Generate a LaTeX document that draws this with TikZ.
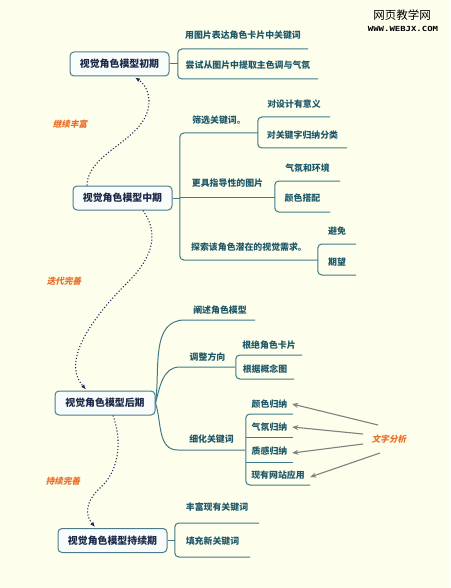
\documentclass[tikz,border=0pt]{standalone}
\usepackage{fontspec}
\usepackage{graphicx}
\usetikzlibrary{calc,arrows.meta}
\newfontfamily\cjk{Noto Sans CJK SC}
\newfontfamily\cjkit[FakeSlant=0.2]{Noto Sans CJK SC}
\newfontfamily\wmono{DejaVu Sans Mono}
\definecolor{bgc}{RGB}{254,254,236}
\definecolor{boxc}{RGB}{74,124,140}
\definecolor{boxfill}{RGB}{248,252,250}
\definecolor{boxtext}{RGB}{27,40,72}
\definecolor{leaftext}{RGB}{30,88,104}
\definecolor{linec}{RGB}{62,122,136}
\definecolor{orangec}{RGB}{232,110,40}
\definecolor{navyc}{RGB}{27,42,92}
\definecolor{grayc}{RGB}{128,128,128}
\begin{document}
\begin{tikzpicture}[x=1pt,y=-1pt,
  box/.style={draw=boxc, line width=1pt, fill=boxfill, rounded corners=4pt, minimum height=24pt, inner sep=0pt, font=\cjk\bfseries\fontsize{9.9}{10}\selectfont, text=boxtext},
  leaf/.style={anchor=south, inner sep=0pt, text height=7pt, text depth=#1, font=\cjk\bfseries\fontsize{8.9}{9}\selectfont, text=leaftext},
  branch/.style={draw=linec, line width=1pt},
  bracket/.style={draw=linec, line width=1pt, rounded corners=4pt},
  note/.style={inner sep=0pt, font=\cjkit\bfseries\fontsize{8.6}{9}\selectfont, text=orangec},
  flow/.style={draw=navyc, line width=1.1pt, dotted, -{Latex[length=5pt,width=4pt]}},
  hint/.style={draw=grayc, line width=1.1pt, -{Stealth[length=6pt,width=5pt]}}]
\fill[bgc] (0,0) rectangle (450,588);
\useasboundingbox (0,0) rectangle (450,588);

% watermark
\node[inner sep=0pt] (wm1) at (402,15) {\cjk\fontsize{11.5}{12}\selectfont 网页教学网};
\node[inner sep=0pt] (wm2) at (403,29) {\scalebox{1.28}[1]{\wmono\bfseries\fontsize{7}{7}\selectfont WWW.WEBJX.COM}};

% ---- stage 1
\node[box, minimum width=99pt] (b1) at (119.5,64) {视觉角色模型初期};
\node[leaf=10.6pt, minimum width=130pt] (c11) at (243,49) {用图片表达角色卡片中关键词};
\node[leaf=10.6pt, minimum width=140pt] (c12) at (248,79) {尝试从图片中提取主色调与气氛};
\draw[branch] (b1.east) -- (b1.east -| c11.south west);
\draw[bracket] (c11.south east) -- (c11.south west) -- (c12.south west) -- (c12.south east);

% ---- stage 2
\node[box, minimum width=99pt] (b2) at (122.5,198) {视觉角色模型中期};
\node[leaf=9.6pt, minimum width=78pt] (c21) at (219,133) {筛选关键词。};
\node[leaf=9.6pt, minimum width=72pt] (c211) at (294,117) {对设计有意义};
\node[leaf=9.6pt, minimum width=89pt] (c212) at (302.5,148) {对关键字归纳分类};
\node[leaf=10.6pt, minimum width=95pt] (c22) at (227.5,197) {更具指导性的图片};
\node[leaf=9.6pt, minimum width=65pt] (c221) at (307.5,181) {气氛和环境};
\node[leaf=10.6pt, minimum width=55pt] (c222) at (302.5,212) {颜色搭配};
\node[leaf=9.6pt, minimum width=138pt] (c23) at (249,260) {探索该角色潜在的视觉需求。};
\node[leaf=9.6pt, minimum width=38pt] (c231) at (337,244) {避免};
\node[leaf=9.6pt, minimum width=38pt] (c232) at (337,275) {期望};
\draw[branch] (b2.east) -- (b2.east -| c22.south west);
\draw[bracket] (c21.south east) -- (c21.south west) -- (c23.south west) -- (c23.south east);
\draw[branch] (c22.south west) -- (c22.south east);
\draw[bracket] (c211.south east) -- (c211.south west) -- (c212.south west) -- (c212.south east);
\draw[bracket] (c221.south east) -- (c221.south west) -- (c222.south west) -- (c222.south east);
\draw[bracket] (c231.south east) -- (c231.south west) -- (c232.south west) -- (c232.south east);

% ---- stage 3
\node[box, minimum width=100pt] (b3) at (105,403) {视觉角色模型后期};
\node[leaf=6.6pt, minimum width=70pt] (c31) at (220,320) {阐述角色模型};
\node[leaf=6.6pt, minimum width=55pt] (c32) at (207.5,367) {调整方向};
\node[leaf=6.6pt, minimum width=66pt] (c321) at (269,355) {根绝角色卡片};
\node[leaf=6.6pt, minimum width=58pt] (c322) at (265,379) {根据概念图};
\node[leaf=7.6pt, minimum width=67pt] (c33) at (211.5,450) {细化关键词};
\node[leaf=6.6pt, minimum width=47pt] (c331) at (269.5,414) {颜色归纳};
\node[leaf=6.6pt, minimum width=47pt] (c332) at (269.5,437) {气氛归纳};
\node[leaf=7.6pt, minimum width=47pt] (c333) at (269.5,462) {质感归纳};
\node[leaf=6.6pt, minimum width=64pt] (c334) at (278,485) {现有网站应用};
\draw[branch] (b3.east) to[out=82,in=180] (c31.south west) -- (c31.south east);
\draw[branch] (b3.east) to[out=75,in=180] (c32.south west) -- (c32.south east);
\draw[branch] (b3.east) to[out=-72,in=180] (c33.south west) -- (c33.south east);
\draw[bracket] (c321.south east) -- (c321.south west) -- (c322.south west) -- (c322.south east);
\draw[bracket] (c331.south east) -- (c331.south west) -- (c334.south west) -- (c334.south east);
\draw[branch] (c332.south west) -- (c332.south east);
\draw[branch] (c333.south west) -- (c333.south east);

% ---- stage 4
\node[box, minimum width=109pt] (b4) at (112.5,540.5) {视觉角色模型持续期};
\node[leaf=12.1pt, minimum width=84pt] (c41) at (217,523) {丰富现有关键词};
\node[leaf=12.6pt, minimum width=75pt] (c42) at (212.5,557) {填充新关键词};
\draw[branch] (b4.east) -- (b4.east -| c41.south west);
\draw[bracket] (c41.south east) -- (c41.south west) -- (c42.south west) -- (c42.south east);

% ---- notes
\node[note] (n1) at (70,124) {继续丰富};
\node[note] (n2) at (64,281) {迭代完善};
\node[note] (n3) at (63,481) {持续完善};
\node[note] (ta) at (389,439) {文字分析};

% ---- flow arrows
\draw[flow] ($(b2.north)+(-35.5,0)$) .. controls (88,150) and (150,140) .. (149,100) .. controls (148,88) and (142,82) .. ($(b1.south)+(15.5,1)$);
\draw[flow] ($(b2.south)+(20.5,0)$) .. controls (158,232) and (155,255) .. (128,282) .. controls (95,315) and (60,360) .. ($(b3.north)+(-19,-1)$);
\draw[flow] ($(b3.south)+(8,0)$) .. controls (122,440) and (120,470) .. (100,488) .. controls (85,502) and (85,515) .. ($(b4.north)+(-17.5,-1)$);

% ---- analysis arrows
\draw[hint] ($(ta)+(-11,-14)$) -- ($(c331.south east)+(-1,-10)$);
\draw[hint] ($(ta)+(-26,-5)$) -- ($(c332.south east)+(-1,-10)$);
\draw[hint] ($(ta)+(-26,5)$) -- ($(c333.south east)+(-1,-9)$);
\draw[hint] ($(ta)+(-9,14)$) -- ($(c334.south east)+(0,-8)$);
\end{tikzpicture}
\end{document}
